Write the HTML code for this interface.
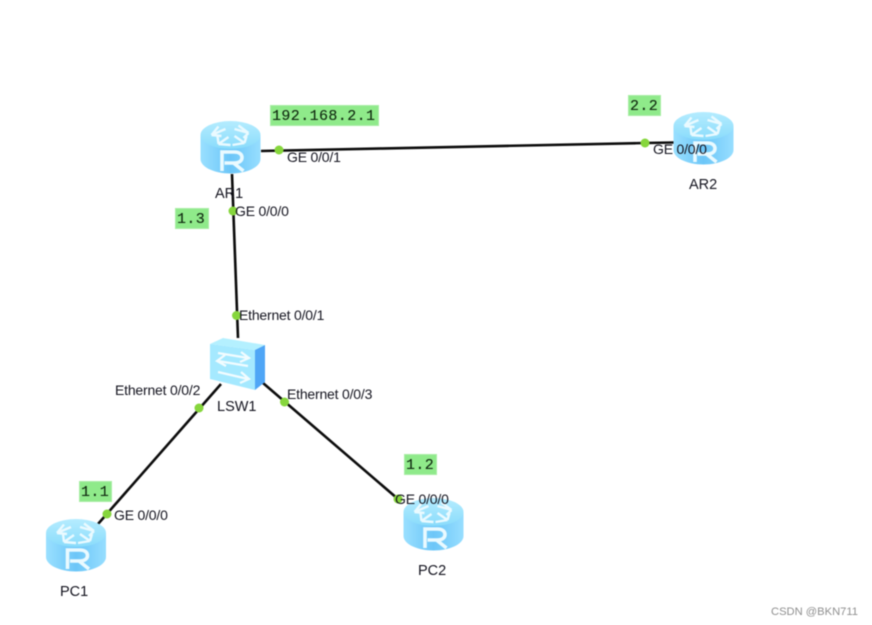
<!DOCTYPE html>
<html>
<head>
<meta charset="utf-8">
<style>
html,body{margin:0;padding:0;background:#fff;}
svg{display:block;filter:blur(.4px);}
text{font-family:"Liberation Sans",sans-serif;fill:#14141f;}
.m{font-family:"Liberation Mono",monospace;font-size:15px;fill:#102a10;letter-spacing:.4px;stroke:#102a10;stroke-width:.12px;}
.p{font-size:14px;letter-spacing:-.2px;}
.n{font-size:14.500px;}
.g{fill:#8fea8a;stroke:#a8eea4;stroke-width:1;}
.d{fill:#86d63c;}
.l{stroke:#0c0c0c;stroke-width:2.600;fill:none;}
</style>
</head>
<body>
<svg width="872" height="625" viewBox="0 0 872 625" xmlns="http://www.w3.org/2000/svg">
<defs>
<linearGradient id="b" x1="0" y1="0" x2="1" y2="0">
<stop offset="0" stop-color="#9ae0ff"/><stop offset=".5" stop-color="#6cc6f8"/><stop offset="1" stop-color="#97deff"/>
</linearGradient>
<linearGradient id="t" x1="0" y1="0" x2="0" y2="1">
<stop offset="0" stop-color="#b5ecff"/><stop offset="1" stop-color="#8adcfb"/>
</linearGradient>
<g id="r">
<path d="M0 14V38C0 46 13.500 52.500 30 52.500S60 46 60 38V14Z" fill="url(#b)"/>
<ellipse cx="30" cy="14" rx="30" ry="14" fill="url(#t)"/>
<g stroke="#eafaff" stroke-width="2.400" fill="none">
<path d="M11 14L25 8M11 14L18 5.500M11 14L21 15"/>
<path d="M48 12L34 8M48 12L38 4.500M48 12L43 17"/>
<path d="M18 23L28 16M18 23L30 24M18 23L17 15"/>
<path d="M44 22L34 15M44 22L32 24M44 22L46 15"/>
</g>
<path d="M21.500 50V31H34C39 31 41.500 33.500 41.500 36.500S39 42 34 42H24M33 42L43 50" fill="none" stroke="#eafaff" stroke-width="3.600"/>
</g>
</defs>

<path class="l" d="M261 151L645 143"/>
<path class="l" d="M645 143L674 142.500"/>
<path class="l" d="M232 174L238 338"/>
<path class="l" d="M221 384L98 524"/>
<path class="l" d="M263 383L398 499"/>

<use href="#r" x="200.500" y="121"/>
<use href="#r" x="673.500" y="112"/>
<use href="#r" x="46" y="519"/>
<use href="#r" x="403.500" y="498"/>

<path d="M210 344L223 338L265 345L255 350Z" fill="#b4f0ff"/>
<path d="M255 350L265 345V382L255 390Z" fill="#4fa6f6"/>
<path d="M210 344L255 350V390L210 379Z" fill="#a5e9ff"/>
<g stroke="#f2fcff" stroke-width="2.200" fill="none">
<path d="M218 353L248 358M241 352L249 358L240 362"/>
<path d="M248 366L218 361M225 355L217 361L226 366"/>
<path d="M218 372L248 379M241 372L249 379L240 383"/>
</g>

<circle class="d" cx="279" cy="150" r="4.500"/>
<circle class="d" cx="645" cy="143" r="4.500"/>
<circle class="d" cx="233" cy="211" r="4.500"/>
<circle class="d" cx="236.500" cy="315.500" r="4.500"/>
<circle class="d" cx="199" cy="408" r="4.500"/>
<circle class="d" cx="284.500" cy="402" r="4.500"/>
<circle class="d" cx="107" cy="514" r="4.500"/>
<circle class="d" cx="398" cy="499" r="4.500"/>

<rect class="g" x="270.500" y="105.500" width="108" height="20"/>
<text class="m" x="272" y="120">192.168.2.1</text>
<rect class="g" x="628.500" y="95.500" width="32" height="20"/>
<text class="m" x="630" y="110">2.2</text>
<rect class="g" x="175.500" y="208.500" width="33" height="20"/>
<text class="m" x="177" y="223">1.3</text>
<rect class="g" x="79.500" y="481.500" width="32" height="20"/>
<text class="m" x="81" y="496">1.1</text>
<rect class="g" x="404.500" y="454.500" width="32" height="20"/>
<text class="m" x="406" y="469">1.2</text>

<text class="p" x="287" y="162">GE 0/0/1</text>
<text class="p" x="653" y="154">GE 0/0/0</text>
<text class="p" x="235" y="216">GE 0/0/0</text>
<text class="p" x="239" y="320">Ethernet 0/0/1</text>
<text class="p" x="115" y="395">Ethernet 0/0/2</text>
<text class="p" x="287" y="399">Ethernet 0/0/3</text>
<text class="p" x="114" y="520">GE 0/0/0</text>
<text class="p" x="395" y="504">GE 0/0/0</text>

<text class="n" x="215" y="198">AR1</text>
<text class="n" x="689" y="189">AR2</text>
<text class="n" x="217" y="411">LSW1</text>
<text class="n" x="60" y="596">PC1</text>
<text class="n" x="418" y="575">PC2</text>

<text x="771" y="615" style="font-size:11.200px;fill:#8f8f8f">CSDN @BKN711</text>
</svg>
</body>
</html>
